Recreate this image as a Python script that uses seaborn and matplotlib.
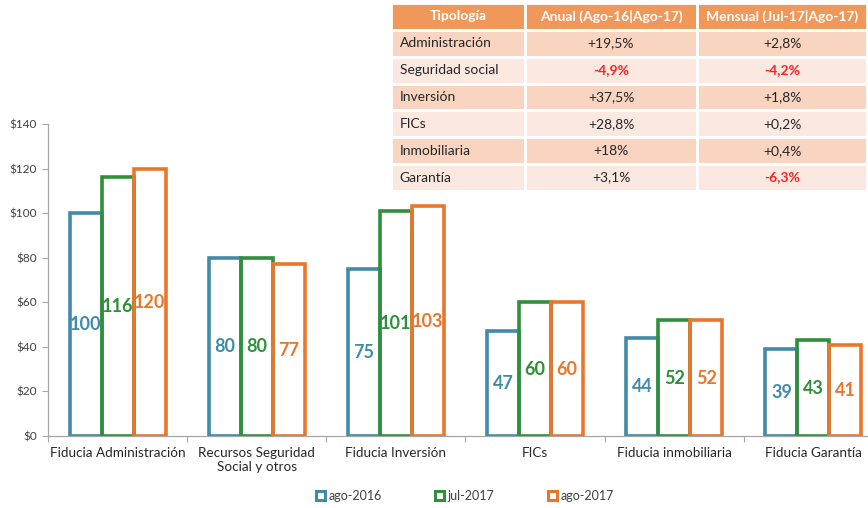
import pandas as pd
import matplotlib.pyplot as plt
import seaborn as sns
from matplotlib.patches import Patch

# Datos del gráfico
categorias = ['Fiducia Administración', 'Recursos Seguridad\nSocial y otros', 'Fiducia Inversión',
              'FICs', 'Fiducia inmobiliaria', 'Fiducia Garantía']
series = ['ago-2016', 'jul-2017', 'ago-2017']
ago_2016 = [100, 80, 75, 47, 44, 39]
jul_2017 = [116, 80, 101, 60, 52, 43]
ago_2017 = [120, 77, 103, 60, 52, 41]
colores = ['#3f8ba8', '#2f8f3a', '#e8762b']

# Tabla de variaciones
tabla_cols = ['Tipología', 'Anual (Ago-16|Ago-17)', 'Mensual (Jul-17|Ago-17)']
tabla_tipo = ['Administración', 'Seguridad social', 'Inversión', 'FICs', 'Inmobiliaria', 'Garantía']
tabla_anual = ['+19,5%', '-4,9%', '+37,5%', '+28,8%', '+18%', '+3,1%']
tabla_mensual = ['+2,8%', '-4,2%', '+1,8%', '+0,2%', '+0,4%', '-6,3%']

sns.set_style('white')
plt.rcParams['font.family'] = ['Lato', 'DejaVu Sans']
texto = '#404040'

df = pd.DataFrame({
    'categoria': categorias * 3,
    'serie': sum([[s] * len(categorias) for s in series], []),
    'valor': ago_2016 + jul_2017 + ago_2017,
})

fig = plt.figure(figsize=(8.68, 5.08), dpi=100)
ax = fig.add_axes([48 / 868, 1 - 436 / 508, 835 / 868, 312 / 508])

sns.barplot(data=df, x='categoria', y='valor', hue='serie', palette=colores,
            width=0.69, gap=0, fill=False, linewidth=2.6, legend=False, ax=ax,
            errorbar=None)

# Etiquetas centradas en cada barra
for cont, col in zip(ax.containers, colores):
    for rect in cont:
        h = rect.get_height()
        ax.text(rect.get_x() + rect.get_width() / 2, h / 2, f'{h:.0f}',
                ha='center', va='center', color=col, fontsize=13, fontweight='bold')

ax.set_ylim(0, 140)
ax.set_xlim(-0.5, 5.5)
ax.set_yticks(range(0, 141, 20))
ax.set_yticklabels([f'${v}' for v in range(0, 141, 20)], fontsize=8.5, color=texto)
ax.set_xticks([i - 0.5 for i in range(7)])
ax.set_xticklabels([])
ax.set_xticks(range(6), minor=True)
ax.set_xticklabels(categorias, minor=True, fontsize=9.7, color='#262626')
ax.tick_params(axis='x', which='major', length=4, color='#a6a6a6', direction='out', bottom=True)
ax.tick_params(axis='x', which='minor', length=0, pad=8)
ax.tick_params(axis='y', length=4, color='#a6a6a6', left=True, pad=4)
ax.set_xlabel('')
ax.set_ylabel('')
sns.despine(ax=ax, top=True, right=True)
for s in ['left', 'bottom']:
    ax.spines[s].set_color('#a6a6a6')
    ax.spines[s].set_linewidth(0.9)

handles = [Patch(facecolor='white', edgecolor=c, linewidth=2.2, label=s) for s, c in zip(series, colores)]
fig.legend(handles=handles, loc='center', bbox_to_anchor=(465 / 868, 1 - 496 / 508), ncol=3,
           frameon=False, fontsize=9, handlelength=0.7, handleheight=0.7, handletextpad=0.3,
           columnspacing=4.3, labelcolor=texto)

# Tabla
tax = fig.add_axes([391 / 868, 1 - 191 / 508, 476 / 868, 188 / 508])
tax.axis('off')
filas = [[t, a, m] for t, a, m in zip(tabla_tipo, tabla_anual, tabla_mensual)]
colores_filas = [['#f9d4c0'] * 3 if i % 2 == 0 else ['#fbe8e0'] * 3 for i in range(len(filas))]
tabla = tax.table(cellText=filas, colLabels=tabla_cols, cellColours=colores_filas,
                  colColours=['#f0975a'] * 3, bbox=[0, 0, 1, 1],
                  colWidths=[134 / 476, 173 / 476, 170 / 476])
tabla.auto_set_font_size(False)
for (r, c), cell in tabla.get_celld().items():
    cell.set_edgecolor('white')
    cell.set_linewidth(2)
    t = cell.get_text()
    t.set_fontsize(10)
    if r == 0:
        t.set_color('white')
        t.set_fontweight('bold')
        t.set_ha('center')
    else:
        t.set_color('#262626')
        if c == 0:
            t.set_ha('left')
            cell.PAD = 0.065
        else:
            t.set_ha('center')
            if t.get_text().startswith('-'):
                t.set_color('#ff2020')
                t.set_fontweight('bold')

fig.savefig('out.png', dpi=100)
